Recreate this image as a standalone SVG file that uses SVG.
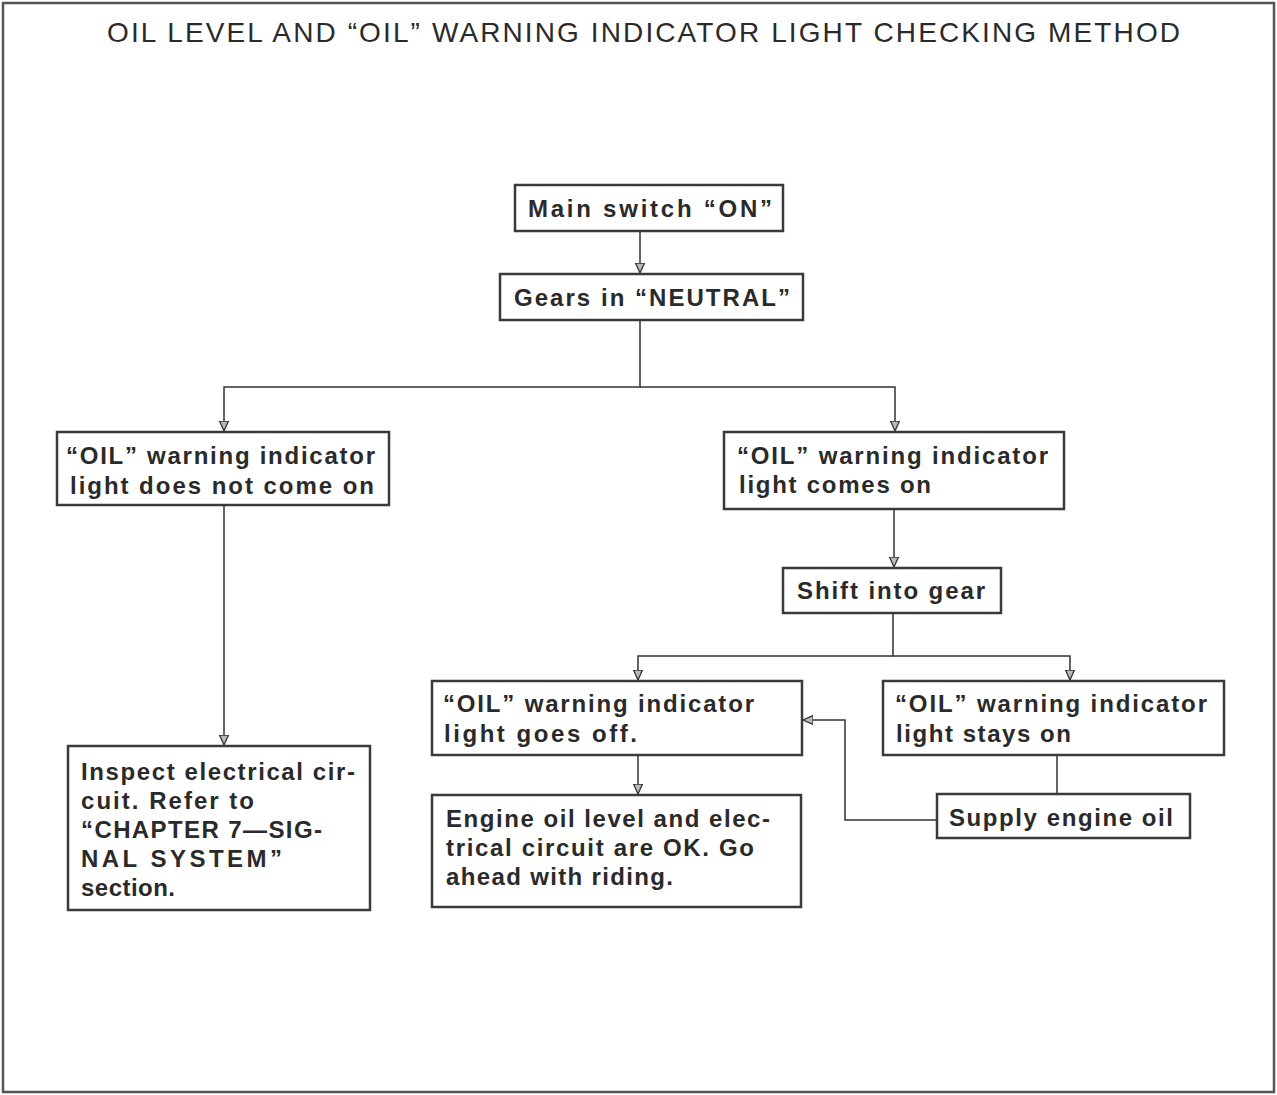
<svg xmlns="http://www.w3.org/2000/svg" width="1277" height="1095" viewBox="0 0 1277 1095">
<defs>
<marker id="arr" markerWidth="12" markerHeight="12" refX="10" refY="5" orient="auto" markerUnits="userSpaceOnUse" viewBox="0 0 12 10">
<path d="M0,0.5 L10,5 L0,9.5 Z" fill="#bbb" stroke="#333" stroke-width="1.3"/>
</marker>
<style>
.box{fill:#fff;stroke:#3a3a3a;stroke-width:2.5}
.t{font-family:"Liberation Sans",Arial,sans-serif;font-size:24px;font-weight:bold;fill:#2a2a2a}
.title{font-family:"Liberation Sans",Arial,sans-serif;font-size:28px;fill:#2a2a2a}
.c{fill:none;stroke:#333;stroke-width:1.5}
</style>
</defs>
<rect x="0" y="0" width="1277" height="1095" fill="#fff"/>
<rect x="3" y="3" width="1271" height="1089" fill="none" stroke="#555" stroke-width="2.5"/>
<text class="title" x="107" y="42" textLength="1073" lengthAdjust="spacing">OIL LEVEL AND “OIL” WARNING INDICATOR LIGHT CHECKING METHOD</text>

<g id="connectors">
<path class="c" d="M640,231 V273" marker-end="url(#arr)"/>
<path class="c" d="M640,320 V387 H224 V431" marker-end="url(#arr)"/>
<path class="c" d="M640,387 H895 V431" marker-end="url(#arr)"/>
<path class="c" d="M224,505 V745" marker-end="url(#arr)"/>
<path class="c" d="M894,509 V567" marker-end="url(#arr)"/>
<path class="c" d="M893,613 V656 H638 V680" marker-end="url(#arr)"/>
<path class="c" d="M893,656 H1070 V680" marker-end="url(#arr)"/>
<path class="c" d="M638,755 V794" marker-end="url(#arr)"/>
<path class="c" d="M1057,755 V794"/>
<path class="c" d="M937,820 H845 V720 H803" marker-end="url(#arr)"/>
</g>

<g id="n_main">
<rect class="box" x="515" y="185" width="268" height="46"/>
<text class="t" x="528" y="217" textLength="244" lengthAdjust="spacing">Main switch “ON”</text>
</g>
<g id="n_gears">
<rect class="box" x="500" y="274" width="303" height="46"/>
<text class="t" x="514" y="306" textLength="276" lengthAdjust="spacing">Gears in “NEUTRAL”</text>
</g>
<g id="n_notcome">
<rect class="box" x="57" y="432" width="332" height="73"/>
<text class="t" x="66" y="464" textLength="309" lengthAdjust="spacing">“OIL” warning indicator</text>
<text class="t" x="70" y="494" textLength="304" lengthAdjust="spacing">light does not come on</text>
</g>
<g id="n_comes">
<rect class="box" x="724" y="432" width="340" height="77"/>
<text class="t" x="737" y="464" textLength="311" lengthAdjust="spacing">“OIL” warning indicator</text>
<text class="t" x="739" y="493" textLength="192" lengthAdjust="spacing">light comes on</text>
</g>
<g id="n_shift">
<rect class="box" x="783" y="568" width="218" height="45"/>
<text class="t" x="797" y="599" textLength="188" lengthAdjust="spacing">Shift into gear</text>
</g>
<g id="n_goesoff">
<rect class="box" x="432" y="681" width="370" height="74"/>
<text class="t" x="443" y="712" textLength="311" lengthAdjust="spacing">“OIL” warning indicator</text>
<text class="t" x="444" y="742" textLength="193" lengthAdjust="spacing">light goes off.</text>
</g>
<g id="n_stays">
<rect class="box" x="883" y="681" width="341" height="74"/>
<text class="t" x="895" y="712" textLength="312" lengthAdjust="spacing">“OIL” warning indicator</text>
<text class="t" x="896" y="742" textLength="175" lengthAdjust="spacing">light stays on</text>
</g>
<g id="n_inspect">
<rect class="box" x="68" y="746" width="302" height="164"/>
<text class="t" x="81" y="780" textLength="274" lengthAdjust="spacing">Inspect electrical cir-</text>
<text class="t" x="81" y="809" textLength="173" lengthAdjust="spacing">cuit. Refer to</text>
<text class="t" x="81" y="838" textLength="241" lengthAdjust="spacing">“CHAPTER 7—SIG-</text>
<text class="t" x="81" y="867" textLength="201" lengthAdjust="spacing">NAL SYSTEM”</text>
<text class="t" x="81" y="896" textLength="94" lengthAdjust="spacing">section.</text>
</g>
<g id="n_engine">
<rect class="box" x="432" y="795" width="369" height="112"/>
<text class="t" x="446" y="827" textLength="324" lengthAdjust="spacing">Engine oil level and elec-</text>
<text class="t" x="446" y="856" textLength="308" lengthAdjust="spacing">trical circuit are OK. Go</text>
<text class="t" x="446" y="885" textLength="227" lengthAdjust="spacing">ahead with riding.</text>
</g>
<g id="n_supply">
<rect class="box" x="937" y="794" width="253" height="44"/>
<text class="t" x="949" y="826" textLength="224" lengthAdjust="spacing">Supply engine oil</text>
</g>
</svg>
